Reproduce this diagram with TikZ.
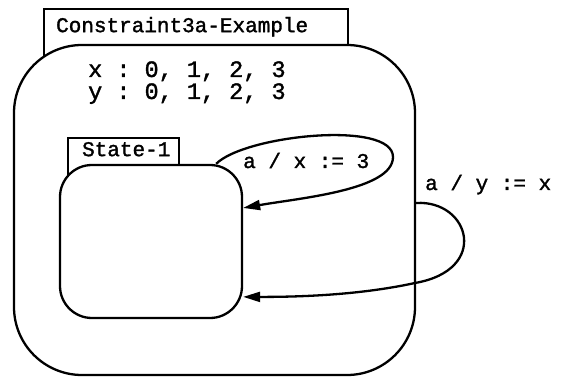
\documentclass[tikz,border=0pt]{standalone}
\usepackage{fontspec}
\setmonofont[FakeBold=1.5]{Liberation Mono}
\usetikzlibrary{arrows.meta}
\begin{document}
\begin{tikzpicture}[x=1pt,y=-1pt,
    statetab/.style={draw,line width=2.3pt,fill=white,anchor=north west,align=left,
      font=\ttfamily\fontsize{21}{25}\selectfont},
    statebody/.style={draw,line width=2.3pt,fill=white,rectangle},
    trans/.style={line width=2.3pt,-{Triangle[length=17pt,width=10pt]}},
    translabel/.style={font=\ttfamily\fontsize{21}{25}\selectfont,anchor=base west,inner sep=0pt}]
  \useasboundingbox (0,0) rectangle (571,377);
  \node[statetab,text width=280pt,inner xsep=12pt,inner ysep=6pt,
    text height=17pt,text depth=38pt] (outertab) at (43,8) {Constraint3a-Example};
  \node[statebody,minimum width=401pt,minimum height=330pt,rounded corners=68pt]
    (outer) at (214.5,210) {};
  \node[anchor=base west,inner sep=0pt,align=left,
    font=\ttfamily\fontsize{23.5}{22}\selectfont] (vars) at (88,99)
    {x : 0, 1, 2, 3\\y : 0, 1, 2, 3};
  \node[statetab,text width=83pt,inner xsep=14pt,inner ysep=4pt,
    text height=14pt,text depth=26pt] (innertab) at (67,137) {State-1};
  \node[statebody,minimum width=182pt,minimum height=153pt,rounded corners=32pt]
    (inner) at (151,241.5) {};
  \coordinate (xloop) at (393,157);
  \coordinate (yloop) at (415,283);
  \begin{scope}
    \draw[trans] (inner.50) .. controls (245,135) and (393,120) .. (xloop)
      .. controls (393,190) and (300,198) .. (inner.20);
    \draw[trans] (outer.2) .. controls (470,200) and (490,270) .. (yloop)
      .. controls (360,295) and (300,297) .. (inner.-31);
  \end{scope}
  \node[translabel] (xlabel) at (243,168) {a / x := 3};
  \node[translabel] (ylabel) at (425,190) {a / y := x};
\end{tikzpicture}
\end{document}
